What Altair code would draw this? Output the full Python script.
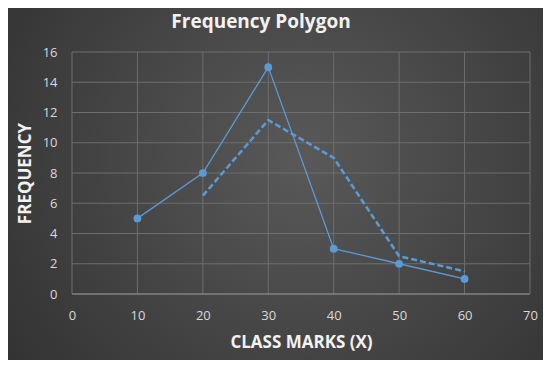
import altair as alt
import pandas as pd

# ---- data ----
class_marks = [10, 20, 30, 40, 50, 60]
frequency = [5, 8, 15, 3, 2, 1]
trend_x = [20, 30, 40, 50, 60]
trend_y = [6.5, 11.5, 9, 2.5, 1.5]
x_ticks = [0, 10, 20, 30, 40, 50, 60, 70]
y_ticks = [0, 2, 4, 6, 8, 10, 12, 14, 16]

W, H = 458, 242
PAD = {"left": 64, "top": 44, "right": 13, "bottom": 66}
BLUE = "#5b9bd5"
GRID = "#6e6e6e"
FONT = "Open Sans"

main = pd.DataFrame({"x": class_marks, "y": frequency})
trend = pd.DataFrame({"x": trend_x, "y": trend_y})
xt = pd.DataFrame({"v": x_ticks})
yt = pd.DataFrame({"v": y_ticks})
one = pd.DataFrame({"a": [0]})

xs = alt.Scale(domain=[0, 70], nice=False)
ys = alt.Scale(domain=[0, 16], nice=False)

xaxis = alt.Axis(values=x_ticks, title="CLASS MARKS (X)", grid=False, domain=False,
                 ticks=False, labelPadding=15, titleY=48, labelOverlap=False,
                 labelFlush=False, titleBaseline="middle", zindex=1)
yaxis = alt.Axis(values=y_ticks, title="FREQUENCY", grid=False, domain=False,
                 ticks=False, labelPadding=15, titleX=-47, labelOverlap=False,
                 labelFlush=False, titleBaseline="middle", zindex=1)

bg = alt.Chart(one).mark_rect(
    color={
        "gradient": "radial",
        "x1": 0.55, "y1": 0.45, "r1": 0,
        "x2": 0.55, "y2": 0.45, "r2": 0.75,
        "stops": [
            {"offset": 0, "color": "#595959"},
            {"offset": 1, "color": "#2e2e2e"},
        ],
    }
).encode(
    x=alt.value(-PAD["left"]),
    x2=alt.value(W + PAD["right"]),
    y=alt.value(-PAD["top"]),
    y2=alt.value(H + PAD["bottom"]),
)

hgrid = alt.Chart(yt).mark_rule(color=GRID, strokeWidth=1).encode(
    y=alt.Y("v:Q", scale=ys, axis=yaxis),
    x=alt.value(0), x2=alt.value(W),
)
vgrid = alt.Chart(xt).mark_rule(color=GRID, strokeWidth=1).encode(
    x=alt.X("v:Q", scale=xs, axis=xaxis),
    y=alt.value(0), y2=alt.value(H),
)
base_rule = alt.Chart(one).mark_rule(color="#8c8c8c", strokeWidth=1).encode(
    y=alt.value(H), x=alt.value(0), x2=alt.value(W),
)

trend_line = alt.Chart(trend).mark_line(
    color=BLUE, strokeWidth=2.5, strokeDash=[6, 3], strokeCap="butt"
).encode(x=alt.X("x:Q", scale=xs, axis=xaxis), y=alt.Y("y:Q", scale=ys, axis=yaxis))

poly = alt.Chart(main).mark_line(color=BLUE, strokeWidth=1.3).encode(
    x=alt.X("x:Q", scale=xs, axis=xaxis), y=alt.Y("y:Q", scale=ys, axis=yaxis)
)
pts = alt.Chart(main).mark_circle(color=BLUE, opacity=1, size=60).encode(
    x=alt.X("x:Q", scale=xs, axis=xaxis), y=alt.Y("y:Q", scale=ys, axis=yaxis)
)

chart = alt.layer(bg, hgrid, vgrid, base_rule, trend_line, poly, pts).properties(
    width=W, height=H, padding=PAD, autosize="none",
    background="#3a3a3a",
    title=alt.TitleParams("Frequency Polygon", font=FONT, fontSize=19, fontWeight="bold",
                          color="#f2f2f2", anchor="middle", frame="group", dx=-40,
                          offset=12, dy=36, zindex=1),
).configure_view(strokeWidth=0).configure_axis(
    labelFont=FONT, labelFontSize=13, labelColor="#d9d9d9",
    titleFont=FONT, titleFontSize=17, titleFontWeight="bold", titleColor="#f2f2f2",
)

chart.save("out.html", embed_options={"renderer": "svg", "actions": False})
